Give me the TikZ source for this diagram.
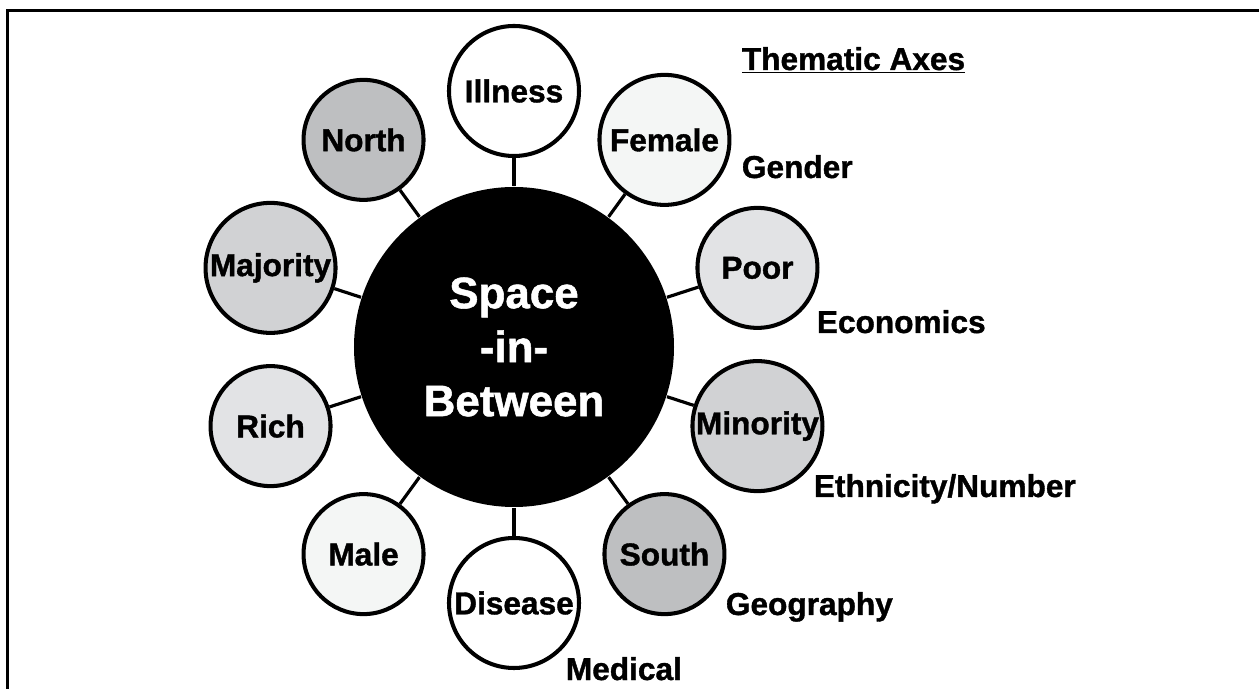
\documentclass[tikz,border=0pt]{standalone}
\usepackage{fontspec}
\setmainfont{Liberation Sans}[BoldFeatures={FakeBold=1.2}]
\definecolor{geogray}{RGB}{190,191,193}
\definecolor{ethgray}{RGB}{209,210,212}
\definecolor{ecogray}{RGB}{226,227,229}
\definecolor{gengray}{RGB}{244,246,245}
\begin{document}
\begin{tikzpicture}[line width=1pt,
  hub/.style={circle, fill=black, text=white, minimum size=6.4cm, inner sep=0pt, align=center,
    font=\fontsize{25}{30.7}\selectfont\bfseries},
  theme/.style={circle, draw, line width=2.3pt, minimum size=2.4cm, inner sep=0pt,
    font=\fontsize{18}{21}\selectfont\bfseries},
  wide/.style={minimum size=2.6cm},
  axis/.style={anchor=base west, inner sep=0pt, font=\fontsize{18}{21}\selectfont\bfseries},
  link/.style={line width=1.8pt}]
  \useasboundingbox (-10.28,-6.84) rectangle (14.9,6.94);
  \draw[line width=1.2pt] (-10.13,-6.84) -- (-10.13,6.73) -- (14.9,6.73); % frame
  \node[hub] (hub) at (0,0) {Space\\-in-\\Between};
  % ring of opposites
  \node[theme, wide, fill=white] (illness) at (90:5.12) {Illness};
  \node[theme, wide, fill=gengray] (female) at (54:5.12) {Female};
  \node[theme, fill=ecogray] (poor) at (18:5.12) {Poor};
  \node[theme, wide, fill=ethgray] (minority) at (-18:5.12) {Minority};
  \node[theme, fill=geogray] (south) at (-54:5.12) {South};
  \node[theme, wide, fill=white] (disease) at (-90:5.12) {Disease};
  \node[theme, fill=gengray] (male) at (-126:5.12) {Male};
  \node[theme, fill=ecogray] (rich) at (-162:5.12) {Rich};
  \node[theme, wide, fill=ethgray] (majority) at (162:5.12) {Majority};
  \node[theme, fill=geogray] (north) at (126:5.12) {North};
  \foreach \n in {illness, female, poor, minority, south, disease, male, rich, majority, north}
    \draw[link] (hub) -- (\n);
  % axis names
  \node[axis] (title) at (4.54,5.54) {\underline{Thematic Axes}};
  \node[axis] (gender) at (4.54,3.38) {Gender};
  \node[axis] (economics) at (6.04,0.28) {Economics};
  \node[axis] (ethnicity) at (5.98,-3.0) {Ethnicity/Number};
  \node[axis] (geography) at (4.22,-5.36) {Geography};
  \node[axis] (medical) at (1.02,-6.66) {Medical};
\end{tikzpicture}
\end{document}
